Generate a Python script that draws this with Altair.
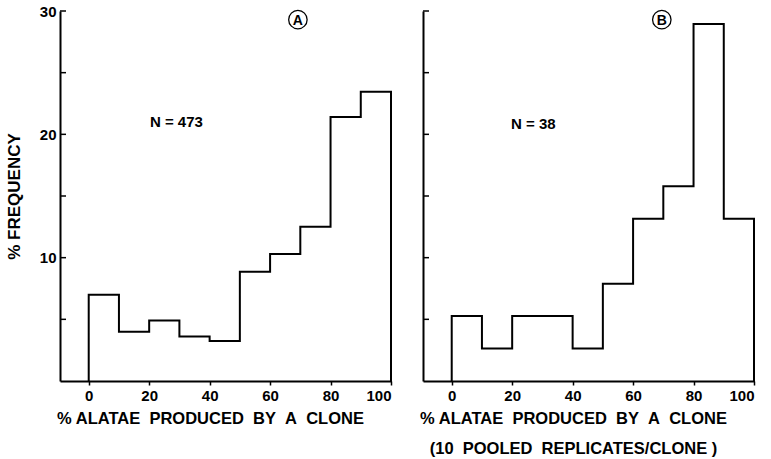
import altair as alt
import pandas as pd

# ---- data ----
bin_edges = [0, 10, 20, 30, 40, 50, 60, 70, 80, 90, 100]
freq_a = [7.0, 4.0, 4.9, 3.6, 3.25, 8.85, 10.3, 12.5, 21.4, 23.45]   # % frequency, panel A
n_a = 473
counts_b = [2, 1, 2, 2, 1, 3, 5, 6, 11, 5]                          # clones per bin, panel B
n_b = 38
freq_b = [c / n_b * 100 for c in counts_b]

x_ticks = [0, 20, 40, 60, 80, 100]
y_labels = [10, 20, 30]
y_ticks = [5, 10, 15, 20, 25, 30]

FONT = "Liberation Sans"


def step_df(freqs):
    xs, ys = [bin_edges[0]], [0]
    for i, f in enumerate(freqs):
        xs += [bin_edges[i], bin_edges[i + 1]]
        ys += [f, f]
    xs.append(bin_edges[-1])
    ys.append(0)
    return pd.DataFrame({"x": xs, "y": ys, "o": list(range(len(xs)))})


def panel(freqs, letter, ntext, nx, ny, lx, ly, first, xtitle):
    xs = alt.Scale(domain=[-9.5, 100], nice=False, zero=False)
    ys = alt.Scale(domain=[0, 30], nice=False)
    if first:
        yaxis = alt.Axis(values=y_labels, ticks=False, labelPadding=4,
                         title="% FREQUENCY", titlePadding=16,
                         labelFontSize=15, labelFontWeight="bold",
                         titleFontSize=17, titleFontWeight="bold",
                         domainWidth=2, domainColor="black", grid=False,
                         labelColor="black", titleColor="black")
    else:
        yaxis = alt.Axis(values=y_labels, ticks=False, labels=False, title="",
                         domainWidth=2, domainColor="black", grid=False)
    xaxis = alt.Axis(values=x_ticks, tickSize=4, tickWidth=1.5, tickColor="black",
                     labelFontSize=15, labelFontWeight="bold", labelPadding=3,
                     labelColor="black", title=xtitle, titleFontSize=16.5,
                     titleFontWeight="bold", titleColor="black",
                     titleX=150, titleY=42, titleAlign="center",
                     titleBaseline="alphabetic", titleLineHeight=30,
                     domainWidth=2, domainColor="black", grid=False)
    X = lambda f: alt.X(f, scale=xs, axis=xaxis)
    Y = lambda f: alt.Y(f, scale=ys, axis=yaxis)
    line = alt.Chart(step_df(freqs)).mark_line(
        color="black", strokeWidth=2, strokeJoin="miter", strokeCap="square"
    ).encode(x=X("x:Q"), y=Y("y:Q"), order="o:Q")
    ticks = alt.Chart(pd.DataFrame({"y": y_ticks})).mark_rule(
        color="black", strokeWidth=1.5
    ).encode(y=Y("y:Q"), x=alt.value(0), x2=alt.value(6))
    ann = pd.DataFrame({"x": [nx], "y": [ny], "txt": [ntext]})
    ntxt = alt.Chart(ann).mark_text(
        font=FONT, fontSize=15, fontWeight="bold", color="black"
    ).encode(x=X("x:Q"), y=Y("y:Q"), text="txt:N")
    lab = pd.DataFrame({"x": [lx], "y": [ly], "txt": [letter]})
    circ = alt.Chart(lab).mark_point(
        shape="circle", size=340, filled=False, color="black", strokeWidth=1.3, opacity=1
    ).encode(x=X("x:Q"), y=Y("y:Q"))
    ltxt = alt.Chart(lab).mark_text(
        font=FONT, fontSize=14, fontWeight="bold", color="black", dy=1
    ).encode(x=X("x:Q"), y=Y("y:Q"), text="txt:N")
    return alt.layer(line, ticks, ntxt, circ, ltxt).properties(width=331, height=370)


title_a = "% ALATAE\u00a0\u00a0PRODUCED\u00a0\u00a0BY\u00a0\u00a0A\u00a0\u00a0CLONE"
title_b = [title_a, "(10\u00a0\u00a0POOLED\u00a0\u00a0REPLICATES/CLONE\u00a0)"]

a = panel(freq_a, "A", f"N = {n_a}", 29, 21, 69.2, 29.3, True, title_a)
b = panel(freq_b, "B", f"N = {n_b}", 27, 20.8, 69.5, 29.3, False, title_b)

chart = alt.hconcat(a, b, spacing=32, bounds="flush").properties(
    padding={"left": 5, "top": 4, "right": 5, "bottom": 5}
).configure(
    font=FONT, background="white"
).configure_view(stroke=None)

chart.save("out.html", embed_options={"renderer": "svg", "actions": False})
